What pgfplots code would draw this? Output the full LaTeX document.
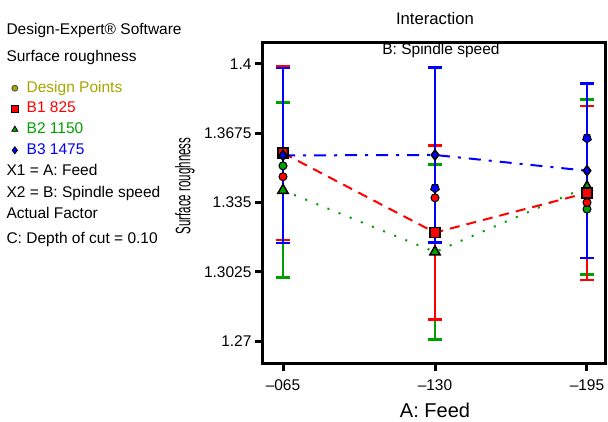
\documentclass[border=0pt]{standalone}
\usepackage{pgfplots}
\pgfplotsset{compat=1.18}
\usepackage{fontspec}
\setmainfont{Liberation Sans}
\usetikzlibrary{plotmarks}

\definecolor{dpolive}{RGB}{166,166,0}
\definecolor{bred}{RGB}{255,0,0}
\definecolor{bgreen}{RGB}{0,160,0}
\definecolor{bblue}{RGB}{0,0,255}

\newcommand{\txt}{\fontsize{15.5}{18}\selectfont}

\begin{document}
\begin{tikzpicture}
\useasboundingbox (0,0) rectangle (608pt,-421pt);
\begin{axis}[
  scale only axis, width=343pt, height=321pt,
  at={(263pt,-363pt)}, anchor=south west,
  xmin=-0.1316, xmax=2.125, ymin=1.2597, ymax=1.4103,
  axis line style={line width=3pt},
  tick style={line width=3pt, black},
  major tick length=8pt, tick align=outside,
  xtick pos=left, ytick pos=left,
  xtick={0,1,2}, xticklabels={\textendash 065,\textendash 130,\textendash 195},
  ytick={1.27,1.3025,1.335,1.3675,1.4},
  yticklabels={1.27,1.3025,1.335,1.3675,1.4},
  ticklabel style={font=\txt},
  xticklabel style={yshift=-5pt},
  /pgf/number format/assume math mode=true,
  legend style={at={(axis description cs:-0.7343,0.889)}, anchor=north west,
    draw=none, fill=none, font=\txt, row sep=0pt, inner sep=0pt, column sep=6pt,
    nodes={inner sep=2.35pt, text height=12pt, text depth=4pt}},
  legend cell align=left,
  clip=false,
]
% legend images
\addlegendimage{only marks, mark=*, mark size=3pt, mark options={fill=dpolive, draw=black!70, line width=0.8pt}}
\addlegendentry{\textcolor{dpolive}{Design Points}}
\addlegendimage{only marks, mark=square*, mark size=3.5pt, mark options={fill=bred, draw=black, line width=0.8pt}}
\addlegendentry{\textcolor{bred}{B1 825}}
\addlegendimage{only marks, mark=triangle*, mark size=3.5pt, mark options={fill=bgreen, draw=black, line width=0.8pt}}
\addlegendentry{\textcolor{bgreen}{B2 1150}}
\addlegendimage{only marks, mark=diamond*, mark size=3.5pt, mark options={fill=bblue, draw=black, line width=0.8pt}}
\addlegendentry{\textcolor{bblue}{B3 1475}}

% error bars
\addplot[forget plot, only marks, mark=none, bgreen,
  error bars/.cd, y dir=both, y explicit,
  error bar style={line width=2pt, bgreen},
  error mark options={rotate=90, bgreen, line width=3pt, mark size=7pt}]
  coordinates {(0,1.3407) +- (0,0.0411) (1,1.3118) +- (0,0.0411) (2,1.3423) +- (0,0.0411)};
\addplot[forget plot, only marks, mark=none, bred,
  error bars/.cd, y dir=both, y explicit,
  error bar style={line width=2pt, bred},
  error mark options={rotate=90, bred, line width=2.5pt, mark size=7pt}]
  coordinates {(0,1.3582) +- (0,0.0408) (1,1.3209) +- (0,0.0408) (2,1.3395) +- (0,0.0408)};
\addplot[forget plot, only marks, mark=none, bblue,
  error bars/.cd, y dir=both, y explicit,
  error bar style={line width=2pt, bblue},
  error mark options={rotate=90, bblue, line width=2.5pt, mark size=7pt}]
  coordinates {(0,1.3571) +- (0,0.0410) (1,1.3573) +- (0,0.0410) (2,1.3499) +- (0,0.0410)};

% interaction lines
\addplot[forget plot, bgreen, line width=2pt, dash pattern=on 2pt off 10pt,
  mark=triangle*, mark size=6pt, mark options={solid, fill=bgreen, draw=black, line width=1.5pt}]
  coordinates {(0,1.3407) (1,1.3118) (2,1.3423)};
\addplot[forget plot, bred, line width=2pt, dash pattern=on 10pt off 7pt,
  mark=square*, mark size=5pt, mark options={solid, fill=bred, draw=black, line width=1.5pt}]
  coordinates {(0,1.3582) (1,1.3209) (2,1.3395)};
\addplot[forget plot, bblue, line width=2pt, dash pattern=on 12pt off 8pt on 3pt off 8pt,
  mark=diamond*, mark size=5pt, mark options={solid, fill=bblue, draw=black, line width=1.5pt}]
  coordinates {(0,1.3571) (1,1.3573) (2,1.3499)};

% design points
\addplot[forget plot, only marks, mark=*, mark size=4pt,
  mark options={fill=bgreen, draw=black, line width=1pt}]
  coordinates {(0,1.3522) (2,1.3319)};
\addplot[forget plot, only marks, mark=*, mark size=4pt,
  mark options={fill=bred, draw=black, line width=1pt}]
  coordinates {(0,1.3471) (1,1.3372) (2,1.3350)};
\addplot[forget plot, only marks, mark=pentagon*, mark size=4.5pt,
  mark options={rotate=180, fill=bblue, draw=black, line width=1pt}]
  coordinates {(1,1.3417) (2,1.3651)};
\end{axis}

% titles and labels
\node[font=\fontsize{16.7}{20}\selectfont] at (435pt,-19pt) {Interaction};
\node[font=\txt] at (441pt,-50pt) {B: Spindle speed};
\node[font=\fontsize{20}{24}\selectfont] at (435pt,-410pt) {A: Feed};
\node[font=\fontsize{21}{24}\selectfont, rotate=90] at (185pt,-186pt) {\scalebox{0.55}[1]{Surface roughness}};

% information block
\node[font=\txt, anchor=west] at (3pt,-30pt) {Design-Expert\textregistered{} Software};
\node[font=\txt, anchor=west] at (3pt,-57pt) {Surface roughness};
\node[font=\txt, anchor=west] at (3pt,-170pt) {X1 = A: Feed};
\node[font=\txt, anchor=west] at (3pt,-193pt) {X2 = B: Spindle speed};
\node[font=\txt, anchor=west] at (3pt,-213pt) {Actual Factor};
\node[font=\txt, anchor=west] at (3pt,-239pt) {C: Depth of cut = 0.10};
\end{tikzpicture}
\end{document}
